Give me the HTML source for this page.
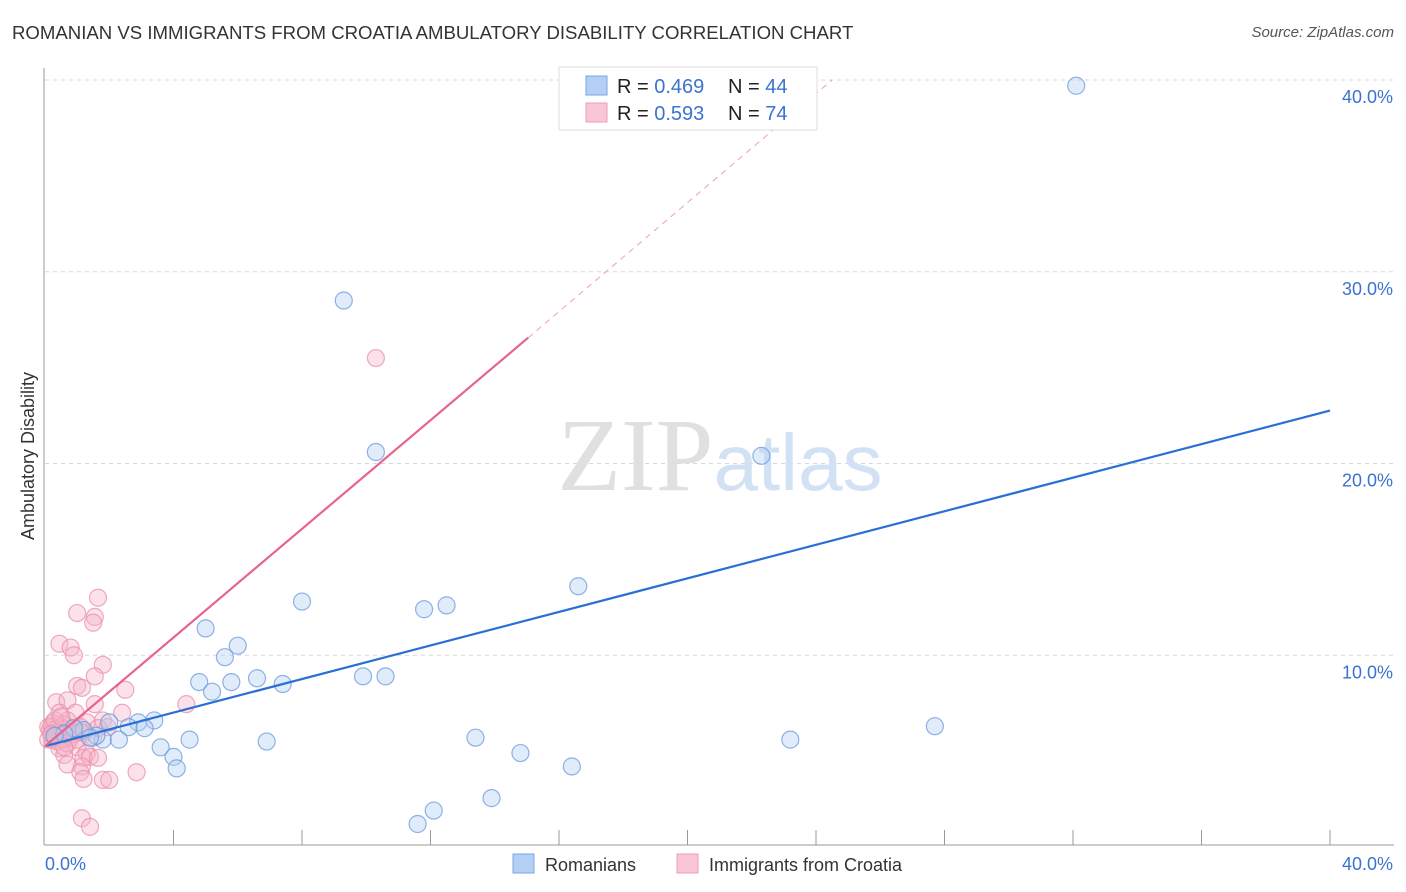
<!DOCTYPE html>
<html><head><meta charset="utf-8">
<style>
html,body{margin:0;padding:0;background:#fff;}
body{width:1406px;height:892px;overflow:hidden;font-family:"Liberation Sans",sans-serif;position:relative;}
.title{position:absolute;left:12px;top:22px;font-size:18.6px;color:#333;}
.source{position:absolute;right:12px;top:24px;font-size:15px;color:#555;font-style:italic;}
svg{position:absolute;left:0;top:0;}
</style></head>
<body>
<div class="title">ROMANIAN VS IMMIGRANTS FROM CROATIA AMBULATORY DISABILITY CORRELATION CHART</div>
<div class="source">Source: ZipAtlas.com</div>
<svg id="chart" width="1406" height="892"></svg>
<script>
const yTicks=[10,20,30,40];
const yTickLabels=["10.0%","20.0%","30.0%","40.0%"];
const xTickLabels=["0.0%","40.0%"];
const romaniansX=[32.1,9.3,10.3,22.3,16.6,8.0,11.8,12.5,5.0,6.0,5.6,4.8,5.2,5.8,6.6,7.4,9.9,10.6,27.7,3.4,2.9,2.6,3.1,2.0,1.8,2.3,4.5,6.9,13.4,14.8,3.6,4.0,4.1,16.4,23.2,13.9,12.1,11.6,1.6,1.2,0.9,0.6,0.3,1.4];
const romaniansY=[39.7,28.5,20.6,20.4,13.6,12.8,12.4,12.6,11.4,10.5,9.9,8.6,8.1,8.6,8.8,8.5,8.9,8.9,6.3,6.6,6.5,6.25,6.2,6.5,5.6,5.6,5.6,5.5,5.7,4.9,5.2,4.7,4.1,4.2,5.6,2.55,1.9,1.2,5.8,6.1,6.2,5.9,5.8,5.7];
const croatiaX=[1.65,1.0,1.55,1.5,0.45,0.8,0.9,1.8,1.55,1.0,1.15,2.5,0.35,0.7,1.55,0.45,0.95,2.4,4.4,0.7,1.3,1.8,1.95,0.25,0.15,0.35,0.45,0.55,0.7,0.3,0.4,0.2,0.8,0.9,0.5,0.1,0.25,0.55,1.5,1.65,1.1,1.2,0.45,1.0,0.6,1.3,1.2,1.4,1.65,0.7,1.15,1.1,1.2,1.8,2.0,2.85,1.15,1.4,10.3,0.3,0.5,0.6,0.2,0.4,0.8,0.1,0.7,0.9,0.3,1.0,0.5,1.1,0.6,0.2];
const croatiaY=[13.0,12.2,12.0,11.7,10.6,10.4,10.0,9.5,8.9,8.4,8.3,8.2,7.55,7.65,7.45,7.0,7.0,7.0,7.45,6.6,6.5,6.6,6.25,6.45,6.1,6.0,6.2,5.95,6.1,5.7,5.7,5.85,5.7,6.0,6.25,6.25,5.6,5.6,5.7,6.2,6.25,5.95,5.15,5.2,4.8,4.9,4.65,4.7,4.65,4.3,4.2,3.9,3.55,3.5,3.5,3.9,1.5,1.05,25.5,6.1,5.8,6.4,6.3,5.5,6.0,5.6,5.4,5.9,6.6,5.6,6.8,6.0,5.2,5.9];
const blueLine=[[0,5.26],[40,22.76]];
const pinkLine=[[0,5.26],[15.04,26.56]];
const pinkDash=[[15.04,26.56],[24.5,40]];

const X0=45,X1=1330,Y0=847,Y40=80;
const sx=v=>X0+(X1-X0)*v/40;
const sy=v=>Y0-(Y0-Y40)*v/40;
const svg=document.getElementById('chart');
const NS='http://www.w3.org/2000/svg';
function mk(tag,attrs,parent){const e=document.createElementNS(NS,tag);for(const k in attrs)e.setAttribute(k,attrs[k]);(parent||svg).appendChild(e);return e;}

yTicks.forEach((t,i)=>{
  const g=mk('line',{x1:45,x2:1393,y1:sy(t),y2:sy(t),stroke:'#d8d8d8','stroke-dasharray':'4,4','stroke-width':1});
  
  
  const tx=mk('text',{x:1393,y:sy(t)+23,'text-anchor':'end','font-size':18,fill:'#3b73d0','font-family':'Liberation Sans, sans-serif'});
  tx.textContent=yTickLabels[i];
  
  
});
const ax=mk('line',{x1:44,x2:44,y1:68,y2:845,stroke:'#999','stroke-width':1});


const bx=mk('line',{x1:44,x2:1394,y1:845,y2:845,stroke:'#999','stroke-width':1});


for(let i=1;i<=10;i++){
  const t=mk('line',{x1:sx(i*4),x2:sx(i*4),y1:830,y2:845,stroke:'#999','stroke-width':1});
  
  
}
const xl0=mk('text',{x:45,y:870,'font-size':18,fill:'#3b73d0','font-family':'Liberation Sans, sans-serif'});
xl0.textContent=xTickLabels[0];


const xl1=mk('text',{x:1393,y:870,'text-anchor':'end','font-size':18,fill:'#3b73d0','font-family':'Liberation Sans, sans-serif'});
xl1.textContent=xTickLabels[1];


const yt=mk('text',{x:34,y:456,'text-anchor':'middle','font-size':18,fill:'#333',transform:'rotate(-90 34 456)','font-family':'Liberation Sans, sans-serif'});
yt.textContent='Ambulatory Disability';


const wm=mk('text',{x:720,y:490,'text-anchor':'middle','font-size':104,'font-family':'Liberation Serif, serif'});
wm.innerHTML='<tspan fill="#e0e0e0">ZIP</tspan><tspan fill="#d3e1f5" font-family="Liberation Sans, sans-serif" font-size="80">atlas</tspan>';



function pts(xs,ys,fill,stroke,name){
  xs.forEach((v,i)=>{
    const c=mk('circle',{cx:sx(v),cy:sy(ys[i]),r:8.5,fill:fill,'fill-opacity':0.4,stroke:stroke,'stroke-opacity':0.75,'stroke-width':1.2});
    
    
  });
}
pts(croatiaX,croatiaY,'#f6b3c8','#eb8fac','croatia-point');
pts(romaniansX,romaniansY,'#b3cff3','#6a9ade','romanian-point');

const bl=mk('line',{x1:sx(blueLine[0][0]),y1:sy(blueLine[0][1]),x2:sx(blueLine[1][0]),y2:sy(blueLine[1][1]),stroke:'#2a6fd6','stroke-width':2.2});


const pl=mk('line',{x1:sx(pinkLine[0][0]),y1:sy(pinkLine[0][1]),x2:sx(pinkLine[1][0]),y2:sy(pinkLine[1][1]),stroke:'#e8638e','stroke-width':2.2});


const pd=mk('line',{x1:sx(pinkDash[0][0]),y1:sy(pinkDash[0][1]),x2:sx(pinkDash[1][0]),y2:sy(pinkDash[1][1]),stroke:'#eba0b8','stroke-width':1,'stroke-dasharray':'6,5'});



const lg=mk('g',{});


mk('rect',{x:559,y:67,width:258,height:63,fill:'#fff',stroke:'#ddd','stroke-width':1},lg);
mk('rect',{x:586,y:76,width:21,height:19,fill:'#b3cff3',stroke:'#7aa6e4'},lg);
mk('rect',{x:586,y:103,width:21,height:19,fill:'#f9c6d5',stroke:'#ee9db6'},lg);
const l1=mk('text',{x:617,y:93,'font-size':20,fill:'#222','font-family':'Liberation Sans, sans-serif'},lg);
l1.innerHTML='R = <tspan fill="#3b73d0">0.469</tspan><tspan x="728">N = </tspan><tspan fill="#3b73d0">44</tspan>';
const l2=mk('text',{x:617,y:120,'font-size':20,fill:'#222','font-family':'Liberation Sans, sans-serif'},lg);
l2.innerHTML='R = <tspan fill="#3b73d0">0.593</tspan><tspan x="728">N = </tspan><tspan fill="#3b73d0">74</tspan>';

const bl1=mk('rect',{x:513,y:854,width:21,height:19,fill:'#b3cff3',stroke:'#7aa6e4'});


const bt1=mk('text',{x:545,y:871,'font-size':18,fill:'#333','font-family':'Liberation Sans, sans-serif'});
bt1.textContent='Romanians';


const bl2=mk('rect',{x:677,y:854,width:21,height:19,fill:'#f9c6d5',stroke:'#ee9db6'});


const bt2=mk('text',{x:709,y:871,'font-size':18,fill:'#333','font-family':'Liberation Sans, sans-serif'});
bt2.textContent='Immigrants from Croatia';


</script>
</body></html>
